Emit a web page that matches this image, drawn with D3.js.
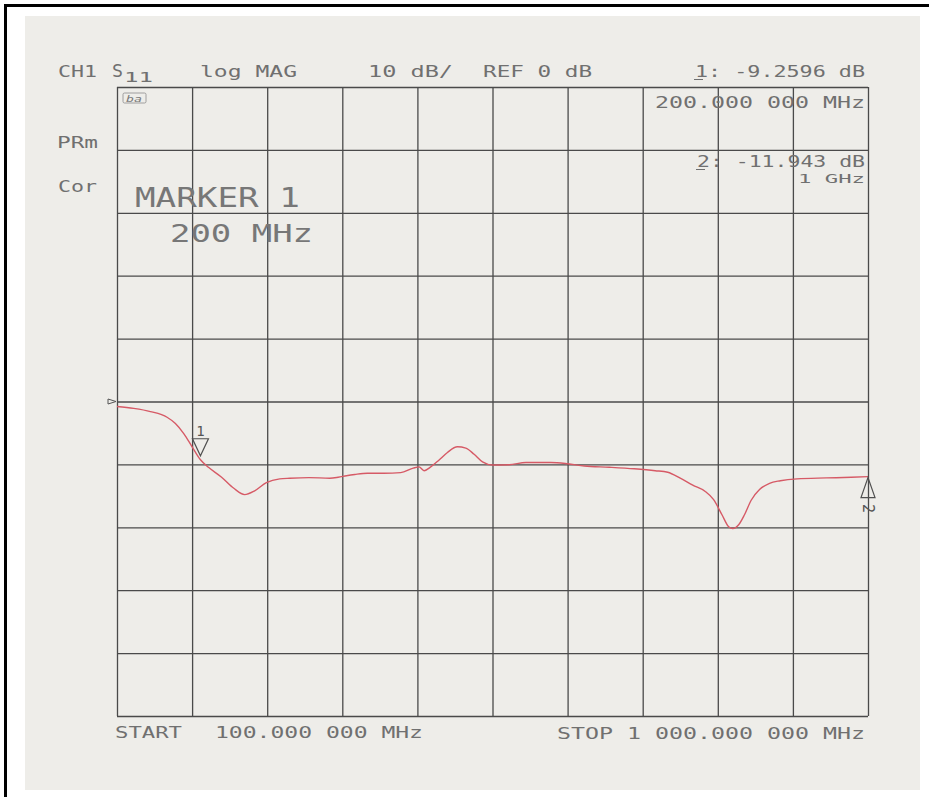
<!DOCTYPE html>
<html>
<head>
<meta charset="utf-8">
<script src="https://cdn.jsdelivr.net/npm/d3@7"></script>
<style>
  html, body { margin: 0; padding: 0; background: #ffffff; }
  svg { display: block; }
</style>
</head>
<body>
<svg id="chart" width="929" height="797"></svg>
<script>
// ---- data ----
const freqMHz = [100, 120, 140, 160, 170, 180, 190, 200, 210, 225, 240, 253, 265, 279, 295, 307, 330, 355, 365, 375, 385, 400, 420, 440, 455, 462, 468, 476, 486, 496, 508, 518, 528, 538, 550, 570, 590, 620, 640, 660, 690, 720, 745, 760, 775, 790, 805, 815, 825, 833, 838, 845, 852, 860, 870, 882, 895, 915, 950, 980, 1000];
const s11dB   = [-0.8, -1.1, -1.6, -2.5, -3.5, -5.1, -7.2, -9.26, -10.5, -12.0, -13.8, -14.8, -14.2, -12.9, -12.3, -12.2, -12.1, -12.2, -12.05, -11.8, -11.6, -11.4, -11.4, -11.3, -10.6, -10.4, -11.0, -10.4, -9.3, -8.1, -7.2, -7.4, -8.4, -9.6, -10.1, -10.05, -9.7, -9.7, -9.9, -10.25, -10.45, -10.7, -11.0, -11.25, -12.2, -13.3, -14.3, -15.6, -18.0, -19.9, -20.2, -19.6, -18.0, -15.7, -14.0, -13.0, -12.6, -12.3, -12.15, -12.05, -11.943];
const xTicksMHz = [100, 190, 280, 370, 460, 550, 640, 730, 820, 910, 1000];
const yTicksDB  = [50, 40, 30, 20, 10, 0, -10, -20, -30, -40, -50];
const refDB = 0;
const marker1 = { id: "1", f: 200, dB: -9.2596 };
const marker2 = { id: "2", f: 1000, dB: -11.943 };
const headerLabels = ["CH1", "S", "11", "log MAG", "10 dB/", "REF 0 dB", "1: -9.2596 dB"];
const markerReadouts = ["200.000 000 MHz", "2: -11.943 dB", "1 GHz"];
const statusLabels = ["PRm", "Cor"];
const markerTitle = ["MARKER 1", "200 MHz"];
const footerLabels = ["START", "100.000 000 MHz", "STOP 1 000.000 000 MHz"];

// ---- drawing ----
const svg = d3.select("#chart");
const textColor = "#707070";
const gridColor = "#4a4a4a";
const FONT = "'DejaVu Sans Mono', 'Liberation Mono', monospace";

// page frame
svg.append("rect").attr("x", 0).attr("y", 0).attr("width", 929).attr("height", 797).attr("fill", "#ffffff");
svg.append("rect").attr("x", 25).attr("y", 16).attr("width", 895).attr("height", 774).attr("fill", "#eeede9");
svg.append("line").attr("x1", 4).attr("x2", 929).attr("y1", 5.5).attr("y2", 5.5).attr("stroke", "#000").attr("stroke-width", 3);
svg.append("line").attr("x1", 5.5).attr("x2", 5.5).attr("y1", 4).attr("y2", 797).attr("stroke", "#000").attr("stroke-width", 3);

const x = d3.scaleLinear().domain([100, 1000]).range([117, 868]);
const y = d3.scaleLinear().domain([50, -50]).range([87, 716]);

// grid via axes
const gx = svg.append("g").attr("transform", `translate(0,${y(-50)})`)
  .call(d3.axisBottom(x).tickValues(xTicksMHz).tickSize(-(y(-50) - y(50))).tickFormat(""));
const gy = svg.append("g").attr("transform", `translate(${x(100)},0)`)
  .call(d3.axisLeft(y).tickValues(yTicksDB).tickSize(-(x(1000) - x(100))).tickFormat(""));
[gx, gy].forEach(g => {
  g.select(".domain").remove();
  g.selectAll(".tick line").attr("stroke", gridColor).attr("stroke-width", 1.3);
});

// reference level indicator
const ry = y(refDB);
svg.append("path")
  .attr("d", `M${x(100) - 9},${ry - 2.5} L${x(100) - 9},${ry + 2.5} L${x(100) - 1},${ry} Z`)
  .attr("fill", "none").attr("stroke", "#555").attr("stroke-width", 1);

// trace
const line = d3.line().x((d, i) => x(freqMHz[i])).y(d => y(d)).curve(d3.curveMonotoneX);
svg.append("path").datum(s11dB).attr("d", line)
  .attr("fill", "none").attr("stroke", "#d65a66").attr("stroke-width", 1.4).attr("stroke-linejoin", "round");

// text helper
function label(str, xx, yy, size, width, opts = {}) {
  const t = svg.append("text").attr("x", xx).attr("y", yy)
    .attr("font-family", FONT).attr("font-size", size)
    .attr("fill", opts.fill || textColor).text(str);
  if (width) t.attr("textLength", width).attr("lengthAdjust", "spacingAndGlyphs");
  if (opts.anchor) t.attr("text-anchor", opts.anchor);
  if (opts.transform) t.attr("transform", opts.transform);
  return t;
}

// header
label(headerLabels[0], 58, 77, 16, 39);
label(headerLabels[1], 112, 77, 17, 11);
label(headerLabels[2], 124, 82, 14, 29);
label(headerLabels[3], 200, 77, 16, 97);
label(headerLabels[4], 368, 77, 16, 85);
label(headerLabels[5], 483, 77, 16, 109);
label(headerLabels[6], 695, 77, 16, 170);
svg.append("line").attr("x1", 694).attr("x2", 703).attr("y1", 79.5).attr("y2", 79.5).attr("stroke", textColor).attr("stroke-width", 1);

// marker readouts
label(markerReadouts[0], 655, 108, 16, 210);
label(markerReadouts[1], 697, 167, 16, 168);
svg.append("line").attr("x1", 696).attr("x2", 705).attr("y1", 169.5).attr("y2", 169.5).attr("stroke", textColor).attr("stroke-width", 1);
label(markerReadouts[2], 798, 183, 13, 67);

// status annotations
label(statusLabels[0], 57, 148, 16, 41);
label(statusLabels[1], 58, 192, 16, 39);

// small icon
svg.append("rect").attr("x", 123).attr("y", 93).attr("width", 23).attr("height", 10)
  .attr("fill", "none").attr("stroke", "#8a8a8a").attr("stroke-width", 0.8).attr("rx", 1.5);
label("ba", 126, 101.5, 9, 16, { fill: "#7a7a7a" }).attr("font-style", "italic");

// marker title
label(markerTitle[0], 135, 207, 26, 165, { fill: "#777" });
label(markerTitle[1], 170, 242, 24, 143, { fill: "#777" });

// footer
label(footerLabels[0], 115, 738, 16, 67);
label(footerLabels[1], 215, 738, 16, 208);
label(footerLabels[2], 557, 739, 16, 308);

// marker 1 (inverted triangle above trace)
const m1x = x(marker1.f), m1y = y(marker1.dB) - 4;
svg.append("path").attr("d", `M${m1x - 8},${m1y - 17} L${m1x + 8},${m1y - 17} L${m1x},${m1y} Z`)
  .attr("fill", "none").attr("stroke", "#505050").attr("stroke-width", 1.2);
label(marker1.id, m1x, m1y - 20, 14, null, { anchor: "middle", fill: "#555" });

// marker 2 (upward triangle below trace at stop)
const m2x = x(marker2.f), m2y = y(marker2.dB) + 1;
svg.append("path").attr("d", `M${m2x - 7},${m2y + 20} L${m2x + 7},${m2y + 20} L${m2x},${m2y} Z`)
  .attr("fill", "none").attr("stroke", "#505050").attr("stroke-width", 1.2);
label(marker2.id, 0, 0, 15, null, { anchor: "middle", fill: "#555",
  transform: `translate(${m2x - 5},${m2y + 31}) rotate(90)` });
</script>
</body>
</html>
